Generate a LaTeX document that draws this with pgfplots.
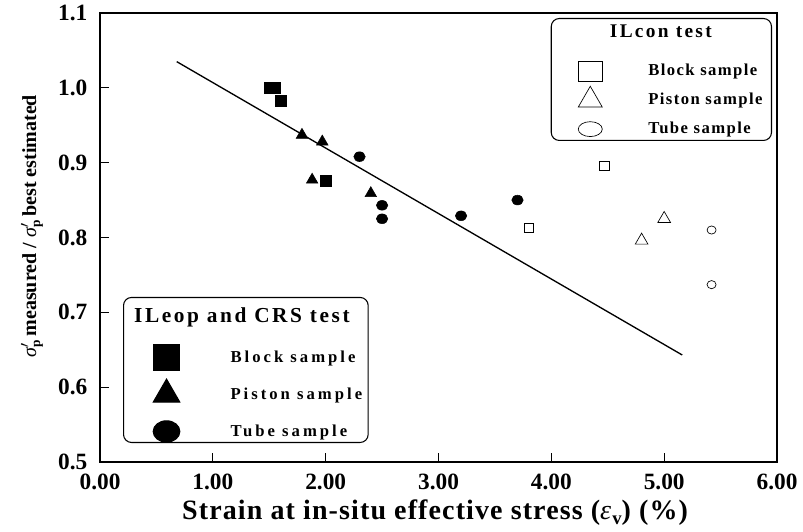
\documentclass[border=0pt]{standalone}
\usepackage{fontspec}
\setmainfont{Liberation Serif}
\newfontfamily\wideA[LetterSpace=18]{Liberation Serif}
\newfontfamily\wideB[LetterSpace=12]{Liberation Serif}
\newfontfamily\wideD[LetterSpace=8.5]{Liberation Serif}
\newfontfamily\wideC[LetterSpace=4]{Liberation Serif}
\usepackage{pgfplots}
\pgfplotsset{compat=1.18}
\usetikzlibrary{calc}

% legend symbols with a fixed cell size, so that rows are evenly spaced
\pgfplotsset{
  legmarkA/.style={legend image code/.code={%
      \path[draw=none,fill=none] (-27.75pt,-8.25pt) rectangle (12pt,8.25pt);
      \draw[overlay,sharp corners,##1] plot coordinates {(0pt,0pt)};}},
  legmarkB/.style={legend image code/.code={%
      \path[draw=none,fill=none] (-22.5pt,-8.5pt) rectangle (10pt,8.5pt);
      \draw[overlay,sharp corners,##1] plot coordinates {(0pt,0pt)};}},
  % title row of a legend: no symbol, only a fixed row height
  legtitle/.style 2 args={legend image code/.code={%
      \path[draw=none,fill=none] (0pt,-#1) rectangle (0pt,#2);}},
}

\newcommand\sigp{\textit{\mdseries σ}\rlap{$^{\prime}$}\raisebox{-0.45ex}{\fontsize{10}{10}\selectfont\bfseries p}}

\begin{document}
\begin{tikzpicture}
\begin{axis}[
  name=main,
  scale only axis, width=507.75pt, height=336.75pt,
  xmin=0, xmax=6, ymin=0.5, ymax=1.1,
  xtick={0,1,2,3,4,5,6},
  xticklabels={0.00,1.00,2.00,3.00,4.00,5.00,6.00},
  ytick={0.5,0.6,0.7,0.8,0.9,1.0,1.1},
  yticklabels={0.5,0.6,0.7,0.8,0.9,1.0,1.1},
  tick align=inside, xtick pos=bottom, ytick pos=left,
  major tick length=7pt,
  every tick/.style={black, line width=0.8pt},
  axis line style={black, line width=1pt},
  ticklabel style={font=\fontsize{17.5}{17.5}\selectfont\bfseries},
  xticklabel style={yshift=-5.5pt},
  yticklabel style={xshift=-6pt},
  xlabel={Strain at in-situ effective stress (\textit{\mdseries ε}\raisebox{-0.35ex}{\fontsize{14}{14}\selectfont v}) (\%)},
  xlabel style={at={(axis description cs:0.495,-0.129)}, anchor=base,
    font=\fontsize{21}{21}\selectfont\wideC\bfseries},
  ylabel={\sigp\,measured / \sigp\,best estimated},
  ylabel style={at={(axis description cs:-0.1004,0.525)}, anchor=center,
    font=\fontsize{15}{15}\selectfont\bfseries},
  legend style={at={(axis description cs:0,0)}, anchor=south west,
    xshift=17.25pt, yshift=14.25pt,
    draw=black, line width=0.8pt, rounded corners=6pt, fill=white,
    inner xsep=4.5pt, inner ysep=0pt, row sep=11.25pt, column sep=36pt,
    nodes={inner sep=0pt},
    font=\fontsize{12.5}{12.5}\selectfont\wideA\bfseries},
  legend cell align=left,
]
% IL-eop and CRS tests
\addplot[only marks, mark=square*, mark size=4pt, black, forget plot]
  coordinates {(1.50,1.000) (1.55,1.000) (1.60,0.983) (2.00,0.876)};
\addplot[only marks, mark=triangle*, mark size=5pt, black, forget plot]
  coordinates {(1.79,0.937) (1.97,0.928) (1.88,0.877) (2.40,0.859)};
\addplot[only marks, mark=*, mark size=4.3pt, mark options={yscale=0.85}, black, forget plot]
  coordinates {(2.30,0.908) (2.50,0.843) (2.50,0.825) (3.20,0.829) (3.70,0.850)};
% trend line
\addplot[black, line width=1pt, forget plot]
  coordinates {(0.68,1.035) (5.16,0.643)};

\addlegendimage{legtitle={11.25pt}{14.25pt}}
\addlegendentry{\makebox[0pt][l]{\hspace*{-72.75pt}\fontsize{16}{16}\selectfont\wideB\bfseries ILeop and CRS test}}
\addlegendimage{legmarkA, black, mark=square*, mark size=10pt, mark options={fill=black}}
\addlegendentry{Block sample}
\addlegendimage{legmarkA, black, mark=triangle*, mark size=11.5pt, mark options={fill=black}}
\addlegendentry{Piston sample}
\addlegendimage{legmarkA, black, mark=*, mark size=10pt, mark options={fill=black, yscale=0.8}}
\addlegendentry{Tube sample}
\end{axis}

% IL-con tests, with their own legend
\begin{axis}[
  scale only axis, width=507.75pt, height=336.75pt,
  xmin=0, xmax=6, ymin=0.5, ymax=1.1,
  hide axis,
  legend style={at={(axis description cs:1,1)}, anchor=north east,
    xshift=-3.75pt, yshift=-3.75pt,
    draw=black, line width=0.8pt, rounded corners=6pt, fill=white,
    inner xsep=6.75pt, inner ysep=0pt, row sep=4.75pt, column sep=33.5pt,
    nodes={inner sep=0pt},
    font=\fontsize{12.5}{12.5}\selectfont\wideD\bfseries},
  legend cell align=left,
]
\addplot[only marks, mark=square, mark size=3.6pt, black, line width=0.5pt, forget plot]
  coordinates {(4.47,0.896) (3.80,0.813)};
\addplot[only marks, mark=triangle, mark size=5.5pt, black, line width=0.5pt, forget plot]
  coordinates {(5.00,0.825) (4.80,0.796)};
\addplot[only marks, mark=o, mark size=3.4pt, mark options={yscale=0.9}, black, line width=0.5pt, forget plot]
  coordinates {(5.42,0.810) (5.42,0.737)};

\addlegendimage{legtitle={16.1pt}{10.1pt}}
\addlegendentry{\makebox[0pt][l]{\hspace*{-29.25pt}\fontsize{14.5}{14.5}\selectfont\wideB\bfseries ILcon test}}
\addlegendimage{legmarkB, black, line width=0.5pt, mark=square, mark size=9pt, mark options={yscale=0.83}}
\addlegendentry{Block sample}
\addlegendimage{legmarkB, black, line width=0.5pt, mark=triangle, mark size=10.4pt}
\addlegendentry{Piston sample}
\addlegendimage{legmarkB, black, line width=0.5pt, mark=o, mark size=9pt, mark options={yscale=0.62}}
\addlegendentry{Tube sample}
\end{axis}

\pgfresetboundingbox
\path[use as bounding box] ($(main.south west)+(-75pt,-51.75pt)$) rectangle ($(main.north east)+(19.5pt,9.75pt)$);
\end{tikzpicture}
\end{document}
